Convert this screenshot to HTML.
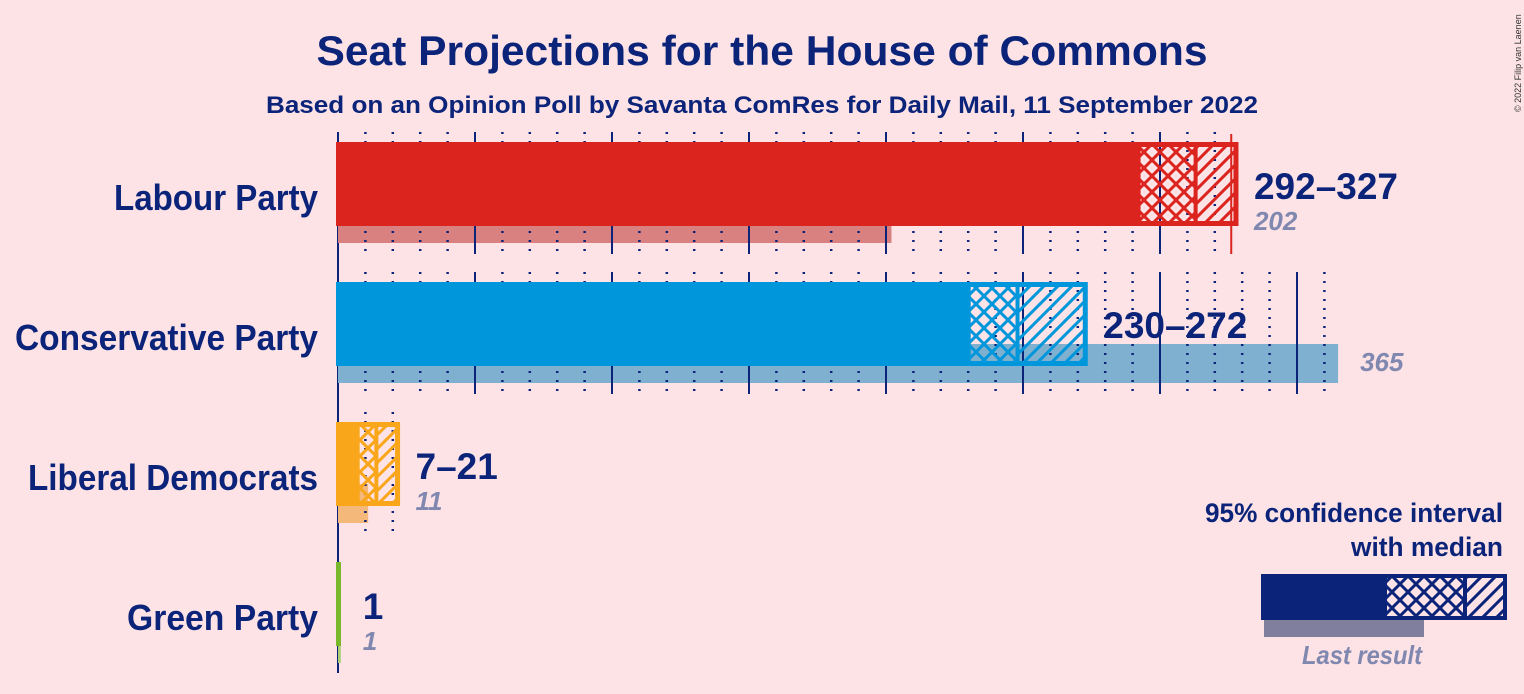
<!DOCTYPE html>
<html><head><meta charset="utf-8"><style>
html,body{margin:0;padding:0;background:#fde3e6;}
svg{display:block;font-family:"Liberation Sans",sans-serif;}
</style></head><body>
<svg id="chart" width="1524" height="694" viewBox="0 0 1524 694" xmlns="http://www.w3.org/2000/svg">
<rect x="0" y="0" width="1524" height="694" fill="#fde3e6"/>
<defs id="defs"></defs>
<text x="762" y="65" text-anchor="middle" font-size="42" font-weight="bold" fill="#0b2479" textLength="891" lengthAdjust="spacingAndGlyphs">Seat Projections for the House of Commons</text>
<text x="762" y="113" text-anchor="middle" font-size="24" font-weight="bold" fill="#0b2479" textLength="992" lengthAdjust="spacingAndGlyphs">Based on an Opinion Poll by Savanta ComRes for Daily Mail, 11 September 2022</text>
<text transform="translate(1521,112) rotate(-90)" font-size="9" fill="#333">© 2022 Filip van Laenen</text>
<g id="rows"></g>
<g>
<text x="1503" y="522" text-anchor="end" font-size="27" font-weight="bold" fill="#0b2479" textLength="298" lengthAdjust="spacingAndGlyphs">95% confidence interval</text>
<text x="1503" y="556" text-anchor="end" font-size="27" font-weight="bold" fill="#0b2479" textLength="152" lengthAdjust="spacingAndGlyphs">with median</text>
<rect x="1264" y="620" width="160" height="17" fill="#80809e"/>
<rect x="1261" y="574" width="124" height="46" fill="#0b2479"/>
<rect x="1385" y="577" width="80" height="40" fill="url(#cross-legend)"/>
<rect x="1465" y="577" width="40" height="40" fill="url(#diag-legend)"/>
<rect x="1385" y="576" width="120" height="42" fill="none" stroke="#0b2479" stroke-width="4"/>
<line x1="1465" y1="576" x2="1465" y2="618" stroke="#0b2479" stroke-width="4"/>
<text x="1362" y="664" text-anchor="middle" font-size="26" font-weight="bold" font-style="italic" fill="#8088b0" textLength="120" lengthAdjust="spacingAndGlyphs">Last result</text>
</g>
</svg>
<script>
const parties = ["Labour Party","Conservative Party","Liberal Democrats","Green Party"];
const lowSeats = [292,230,7,1];
const medianSeats = [313,248,14,1];
const highSeats = [327,272,21,1];
const lastResult = [202,365,11,1];
const rangeLabels = ["292–327","230–272","7–21","1"];
const lastLabels = ["202","365","11","1"];
const colors = ["#dc241f","#0096db","#faa61a","#78b82a"];
const lastColors = ["#d98080","#80b0d0","#f3b87a","#a8d070"];
const labelWidths = [204,303,290,191];
const majority = 326;

const NS="http://www.w3.org/2000/svg";
const x0=338, pxPerSeat=2.74;
function xs(v){return x0+v*pxPerSeat;}
function mk(tag,attrs,parent){const e=document.createElementNS(NS,tag);for(const k in attrs)e.setAttribute(k,attrs[k]);parent.appendChild(e);return e;}
const defs=document.getElementById('defs');
function patterns(id,col){
  const c=mk('pattern',{id:'cross-'+id,patternUnits:'userSpaceOnUse',width:16,height:16},defs);
  mk('path',{d:'M-2,2 L2,-2 M0,16 L16,0 M14,18 L18,14 M-2,14 L2,18 M0,0 L16,16 M14,-2 L18,2',stroke:col,'stroke-width':3},c);
  const d=mk('pattern',{id:'diag-'+id,patternUnits:'userSpaceOnUse',width:14,height:14},defs);
  mk('path',{d:'M0,14 L14,0 M-2,2 L2,-2 M12,16 L16,12',stroke:col,'stroke-width':3},d);
}
patterns('legend','#0b2479');
const rows=document.getElementById('rows');
const axis=mk('line',{x1:x0,y1:132,x2:x0,y2:673,stroke:'#0b2479','stroke-width':2},rows);


parties.forEach((p,i)=>{
  const top=142+140*i, h=84;
  patterns('p'+i,colors[i]);
  const g=mk('g',{},rows);
  
  
  const lr=mk('rect',{x:x0,y:top+62,width:xs(lastResult[i])-x0,height:39,fill:lastColors[i]},g);
  
  
  const maxS=Math.max(highSeats[i],lastResult[i]);
  for(let s=10;s<=maxS;s+=10){
    const solid=s%50===0;
    const gl=mk('line',{x1:xs(s),y1:top-10,x2:xs(s),y2:top+112,stroke:'#0b2479','stroke-width':solid?2:2.5,'stroke-dasharray':solid?'none':'2,7'},g);
    
    
  }
  const sb=mk('rect',{x:x0-2,y:top,width:Math.max(xs(lowSeats[i])-x0+2,5),height:h,fill:colors[i]},g);
  
  
  if(highSeats[i]>lowSeats[i]){
    const ch=mk('rect',{x:xs(lowSeats[i]),y:top,width:xs(medianSeats[i])-xs(lowSeats[i]),height:h,fill:'url(#cross-p'+i+')'},g);
    
    
    const dg=mk('rect',{x:xs(medianSeats[i]),y:top,width:xs(highSeats[i])-xs(medianSeats[i]),height:h,fill:'url(#diag-p'+i+')'},g);
    
    
    const ol=mk('rect',{x:xs(lowSeats[i]),y:top+2.5,width:xs(highSeats[i])-xs(lowSeats[i])+2,height:h-5,fill:'none',stroke:colors[i],'stroke-width':5},g);
    
    
    const md=mk('line',{x1:xs(medianSeats[i]),y1:top,x2:xs(medianSeats[i]),y2:top+h,stroke:colors[i],'stroke-width':4},g);
    
    
  }
  const pl=mk('text',{x:318,y:top+68,'text-anchor':'end','font-size':36,'font-weight':'bold',fill:'#0b2479',textLength:labelWidths[i],lengthAdjust:'spacingAndGlyphs'},g);
  pl.textContent=p;
  
  
  const lx=Math.max(xs(highSeats[i]),xs(lowSeats[i]))+(i===3?22:20);
  const rl=mk('text',{x:lx,y:i===1?top+56:top+57,'font-size':37,'font-weight':'bold',fill:'#0b2479'},g);
  rl.textContent=rangeLabels[i];
  
  
  const lastX=i===1?xs(lastResult[i])+22:lx;
  const ll=mk('text',{x:lastX,y:i===1?top+89:top+88,'font-size':26,'font-weight':'bold','font-style':'italic',fill:'#8088b0'},g);
  ll.textContent=lastLabels[i];
  
  
  if(i===0){
    const mj=mk('line',{x1:xs(majority),y1:top-8,x2:xs(majority),y2:top+112,stroke:'#dc241f','stroke-width':2},g);
    
    
  }
});
</script>
</body></html>
